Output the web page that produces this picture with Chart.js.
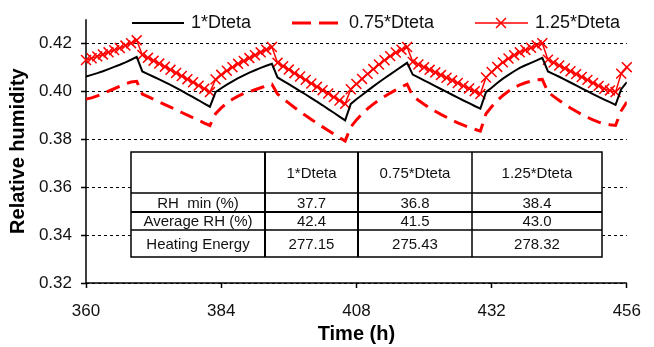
<!DOCTYPE html>
<html>
<head>
<meta charset="utf-8">
<script src="https://cdn.jsdelivr.net/npm/chart.js@4"></script>
<style>
  body { margin: 0; background: #fff; }
</style>
</head>
<body>
<canvas id="grafico" width="654" height="347"></canvas>
<script>
// hourly time axis, 360 .. 456 h
const hours = Array.from({ length: 97 }, (_, i) => 360 + i)

// relative humidity, 1*Dteta
const rh1 = [
  .4061, .4068, .4075, .4083, .4092, .4101, .4110, .4120, .4131, .4143,
  .4082, .4071, .4060, .4049, .4038, .4026, .4014, .4001, .3988, .3975, .3962, .3948, .3935,
  .3996, .4012, .4027, .4041, .4054, .4066, .4077, .4087, .4097, .4106, .4114,
  .4057, .4043, .4029, .4015, .4000, .3986, .3971, .3956, .3941, .3925, .3910, .3894, .3878,
  .3947, .3966, .3984, .4002, .4020, .4037, .4054, .4070, .4086, .4102, .4118,
  .4069, .4057, .4045, .4033, .4021, .4009, .3997, .3985, .3973, .3961, .3950, .3938, .3927,
  .3996, .4014, .4034, .4052, .4068, .4083, .4097, .4108, .4118, .4128, .4139,
  .4082, .4071, .4060, .4048, .4036, .4024, .4012, .4000, .3988, .3976, .3965, .3954, .3943,
  .4008, .4038
]

// relative humidity, 0.75*Dteta
const rh075 = [
  .3967, .3972, .3980, .3990, .4000, .4010, .4020, .4030, .4038, .4041,
  .3988, .3977, .3966, .3955, .3944, .3933, .3922, .3911, .3900, .3889, .3878, .3867, .3857,
  .3906, .3930, .3950, .3966, .3979, .3990, .3998, .4006, .4014, .4022, .4029,
  .3988, .3968, .3950, .3932, .3915, .3898, .3882, .3866, .3851, .3836, .3821, .3806, .3792,
  .3850, .3880, .3905, .3927, .3946, .3963, .3978, .3992, .4005, .4017, .4029,
  .3980, .3962, .3945, .3930, .3916, .3903, .3891, .3879, .3868, .3858, .3849, .3841, .3833,
  .3906, .3935, .3960, .3982, .4000, .4015, .4026, .4035, .4042, .4047, .4049,
  .3996, .3978, .3961, .3945, .3930, .3916, .3903, .3891, .3880, .3871, .3864, .3860, .3857,
  .3918, .3955
]

// relative humidity, 1.25*Dteta
const rh125 = [
  .4130, .4137, .4145, .4153, .4162, .4171, .4180, .4190, .4200, .4212,
  .4151, .4139, .4127, .4115, .4102, .4089, .4076, .4063, .4050, .4037, .4023, .4010, .3996,
  .4049, .4068, .4085, .4100, .4114, .4126, .4138, .4150, .4162, .4173, .4184,
  .4118, .4104, .4090, .4075, .4061, .4047, .4032, .4018, .4004, .3990, .3975, .3961, .3947,
  .4008, .4030, .4051, .4072, .4092, .4111, .4129, .4146, .4161, .4173, .4184,
  .4122, .4111, .4100, .4089, .4078, .4067, .4056, .4045, .4034, .4022, .4011, .4000, .3988,
  .4057, .4080, .4101, .4120, .4136, .4150, .4162, .4172, .4181, .4191, .4200,
  .4131, .4119, .4107, .4095, .4083, .4071, .4059, .4047, .4034, .4022, .4010, .4003, .3996,
  .4073, .4100
]

const xTicks = [360, 384, 408, 432, 456]
const yTicks = [0.32, 0.34, 0.36, 0.38, 0.40, 0.42]

// summary table
const colunas = ['1*Dteta', '0.75*Dteta', '1.25*Dteta']
const linhas = ['RH  min (%)', 'Average RH (%)', 'Heating Energy']
const rhMin = ['37.7', '36.8', '38.4']
const rhMedia = ['42.4', '41.5', '43.0']
const energia = ['277.15', '275.43', '278.32']

const serie = (vals) => hours.map((h, i) => ({ x: h, y: vals[i] }))

const fonte = (tam, peso) => (peso || '') + ' ' + tam + 'px "Liberation Sans", Arial, sans-serif'

// white box behind the legend, over the gridlines
const fundoLegenda = {
  id: 'fundoLegenda',
  beforeDatasetsDraw(chart) {
    const ctx = chart.ctx
    ctx.save()
    ctx.fillStyle = '#fff'
    ctx.fillRect(110, 4, 522, 36)
    ctx.restore()
  }
}

// solid axis lines (the gridlines are dashed)
const eixos = {
  id: 'eixos',
  beforeDatasetsDraw(chart) {
    const { ctx, chartArea: a } = chart
    ctx.save()
    ctx.strokeStyle = '#000'
    ctx.lineWidth = 1.5
    ctx.setLineDash([])
    ctx.beginPath()
    ctx.moveTo(a.left, a.top)
    ctx.lineTo(a.left, a.bottom)
    ctx.lineTo(a.right, a.bottom)
    ctx.stroke()
    ctx.restore()
  }
}

const legenda = {
  id: 'legenda',
  afterDraw(chart) {
    const ctx = chart.ctx
    const y = 23
    ctx.save()
    ctx.lineCap = 'butt'
    // 1*Dteta
    ctx.strokeStyle = '#000'
    ctx.lineWidth = 2
    ctx.beginPath(); ctx.moveTo(132, y); ctx.lineTo(184, y); ctx.stroke()
    // 0.75*Dteta
    ctx.strokeStyle = '#f00'
    ctx.lineWidth = 3
    ctx.setLineDash([19, 8])
    ctx.beginPath(); ctx.moveTo(292, y); ctx.lineTo(338, y); ctx.stroke()
    ctx.setLineDash([])
    // 1.25*Dteta
    ctx.lineWidth = 1.5
    ctx.beginPath(); ctx.moveTo(475, y); ctx.lineTo(528, y); ctx.stroke()
    const r = 7 * Math.SQRT1_2
    ctx.beginPath()
    ctx.moveTo(501 - r, y - r); ctx.lineTo(501 + r, y + r)
    ctx.moveTo(501 - r, y + r); ctx.lineTo(501 + r, y - r)
    ctx.stroke()

    ctx.fillStyle = '#111'
    ctx.font = fonte(18)
    ctx.textBaseline = 'middle'
    ctx.textAlign = 'left'
    ctx.fillText(colunas[0], 191, y)
    ctx.fillText(colunas[1], 349, y)
    ctx.fillText(colunas[2], 535, y)
    ctx.restore()
  }
}

const tabela = {
  id: 'tabela',
  afterDatasetsDraw(chart) {
    const ctx = chart.ctx
    const xs = [131, 265, 358, 472, 602]
    const ys = [152, 193, 212, 230, 257]
    ctx.save()
    ctx.fillStyle = '#fff'
    ctx.fillRect(xs[0], ys[0], xs[4] - xs[0], ys[4] - ys[0])
    ctx.strokeStyle = '#000'
    ctx.lineWidth = 1.5
    ctx.strokeRect(xs[0], ys[0], xs[4] - xs[0], ys[4] - ys[0])
    for (let i = 1; i < 4; i++) {
      ctx.lineWidth = i < 3 ? 2 : 1.5
      ctx.beginPath(); ctx.moveTo(xs[i], ys[0]); ctx.lineTo(xs[i], ys[4]); ctx.stroke()
      ctx.lineWidth = i == 2 ? 2 : 1.5
      ctx.beginPath(); ctx.moveTo(xs[0], ys[i]); ctx.lineTo(xs[4], ys[i]); ctx.stroke()
    }
    ctx.fillStyle = '#111'
    ctx.font = fonte(15)
    ctx.textAlign = 'center'
    ctx.textBaseline = 'middle'
    const meio = (a, b) => (a + b) / 2
    colunas.forEach((c, j) => ctx.fillText(c, meio(xs[j + 1], xs[j + 2]), meio(ys[0], ys[1]) + 1))
    const valores = [rhMin, rhMedia, energia]
    linhas.forEach((l, i) => {
      const yc = meio(ys[i + 1], ys[i + 2]) + 1
      ctx.fillText(l, meio(xs[0], xs[1]), yc)
      valores[i].forEach((v, j) => ctx.fillText(v, meio(xs[j + 1], xs[j + 2]), yc))
    })
    ctx.restore()
  }
}

new Chart(document.getElementById('grafico'), {
  type: 'line',
  data: {
    datasets: [
      {
        label: colunas[0],
        data: serie(rh1),
        borderColor: '#000',
        borderWidth: 2,
        pointRadius: 0,
        tension: 0
      }, {
        label: colunas[1],
        data: serie(rh075),
        borderColor: '#f00',
        borderWidth: 3,
        borderDash: [14, 8],
        pointRadius: 0,
        tension: 0
      }, {
        label: colunas[2],
        data: serie(rh125),
        borderColor: '#f00',
        borderWidth: 1.5,
        pointStyle: 'crossRot',
        pointRadius: 7,
        pointBorderWidth: 1.5,
        pointBorderColor: '#f00',
        clip: 8,
        tension: 0
      }
    ]
  },
  options: {
    responsive: false,
    animation: false,
    devicePixelRatio: 1,
    layout: { padding: { top: 13, right: 17, left: 0, bottom: 0 } },
    plugins: {
      legend: { display: false },
      tooltip: { enabled: false }
    },
    scales: {
      x: {
        type: 'linear',
        min: 360,
        max: 456,
        afterBuildTicks: (ax) => { ax.ticks = xTicks.map(v => ({ value: v })) },
        afterFit: (ax) => { ax.height = 64 },
        border: { display: false },
        grid: { drawOnChartArea: false, color: '#000', tickLength: 5, tickWidth: 1.5 },
        ticks: { color: '#111', font: { family: '"Liberation Sans", Arial', size: 17 }, padding: 13, maxRotation: 0 },
        title: { display: true, text: 'Time (h)', color: '#000', font: { family: '"Liberation Sans", Arial', size: 20, weight: 'bold' }, padding: { top: 0, bottom: 1 } }
      },
      y: {
        min: 0.32,
        max: 0.43,
        afterBuildTicks: (ax) => { ax.ticks = yTicks.map(v => ({ value: v })) },
        afterFit: (ax) => { ax.width = 86 },
        border: { display: false, dash: [3, 3] },
        grid: { color: '#000', lineWidth: 1, tickLength: 5, tickBorderDash: [], tickWidth: 1.5 },
        ticks: { color: '#111', font: { family: '"Liberation Sans", Arial', size: 17 }, padding: 9, callback: (v) => v.toFixed(2) },
        title: { display: true, text: 'Relative humidity', color: '#000', font: { family: '"Liberation Sans", Arial', size: 20, weight: 'bold' }, padding: { top: 6, bottom: 0 } }
      }
    }
  },
  plugins: [fundoLegenda, eixos, tabela, legenda]
})
</script>
</body>
</html>
